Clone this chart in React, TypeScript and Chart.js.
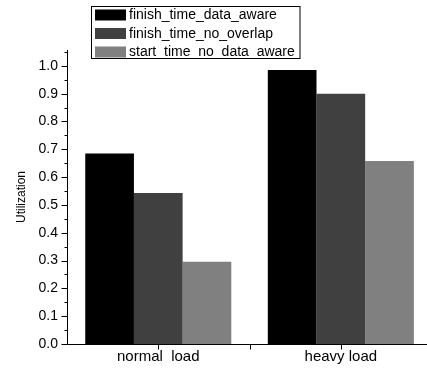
import React, { useEffect, useRef } from "react";
import { Chart, registerables } from "chart.js";

Chart.register(...registerables);

const categories = ["normal  load", "heavy load"];
const categoryPositions = [1, 2];
const seriesNames = ["finish_time_data_aware", "finish_time_no_overlap", "start_time_no_data_aware"];
const finishTimeDataAware = [0.685, 0.985];
const finishTimeNoOverlap = [0.543, 0.9];
const startTimeNoDataAware = [0.296, 0.658];
const seriesColors = ["#000000", "#404040", "#808080"];
const xTickValues = [1, 1.5, 2];
const yMajorStep = 0.1;
const yMinorStep = 0.05;

const FONT = "'Liberation Sans', Arial, sans-serif";

const decorPlugin = {
  id: "decor",
  afterDraw(chart: any) {
    const ctx = chart.ctx;
    const xs = chart.scales.x;
    const ys = chart.scales.y;
    const { left, right, top, bottom } = chart.chartArea;
    ctx.save();
    ctx.strokeStyle = "#000";
    ctx.lineWidth = 1;
    const line = (x1: number, y1: number, x2: number, y2: number) => {
      ctx.beginPath();
      ctx.moveTo(x1, y1);
      ctx.lineTo(x2, y2);
      ctx.stroke();
    };
    const ax = Math.round(left) + 0.5;
    const ay = Math.round(bottom) + 0.5;
    line(ax, top, ax, ay);
    line(ax, ay, right, ay);
    const n = Math.round(ys.max / yMinorStep);
    for (let i = 0; i <= n; i++) {
      const v = i * yMinorStep;
      if (v > ys.max) break;
      const py = Math.round(ys.getPixelForValue(v)) + 0.5;
      const len = i % 2 === 0 ? 6 : 3;
      line(ax - len, py, ax, py);
    }
    for (const v of xTickValues) {
      const px = Math.round(xs.getPixelForValue(v)) + 0.5;
      line(px, ay, px, ay + 5);
    }
    // legend
    const lx = 91.5, ly = 6.5, lw = 208.5, lh = 52;
    ctx.fillStyle = "#fff";
    ctx.fillRect(lx, ly, lw, lh);
    ctx.strokeRect(lx, ly, lw, lh);
    ctx.font = `14px ${FONT}`;
    ctx.textBaseline = "middle";
    ctx.textAlign = "left";
    seriesNames.forEach((name, i) => {
      const cy = 15 + i * 18.5;
      ctx.fillStyle = seriesColors[i];
      ctx.fillRect(95, cy - 5.5, 31, 11);
      ctx.fillStyle = "#000";
      ctx.fillText(name, 129, cy + 0.5);
    });
    ctx.restore();
  },
};

export default function App() {
  const ref = useRef<HTMLCanvasElement | null>(null);
  useEffect(() => {
    document.body.style.margin = "0";
    Chart.defaults.font.family = FONT;
    Chart.defaults.color = "#000";
    const seriesValues = [finishTimeDataAware, finishTimeNoOverlap, startTimeNoDataAware];
    const chart = new Chart(ref.current as HTMLCanvasElement, {
      type: "bar",
      data: {
        datasets: seriesNames.map((name, i) => ({
          label: name,
          data: categoryPositions.map((x, j) => ({ x, y: seriesValues[i][j] })),
          backgroundColor: seriesColors[i],
          borderWidth: 0,
          categoryPercentage: 0.8,
          barPercentage: 1.0,
        })),
      },
      options: {
        responsive: false,
        animation: false,
        layout: { padding: { top: 50, left: 0, right: 0, bottom: 0 } },
        plugins: { legend: { display: false }, tooltip: { enabled: false }, title: { display: false } },
        scales: {
          x: {
            type: "linear",
            offset: false,
            min: 0.5,
            max: 2.472,
            grid: { display: false, drawTicks: false, tickLength: 0, offset: false },
            border: { display: false },
            afterBuildTicks: (s: any) => {
              s.ticks = categoryPositions.map((value) => ({ value }));
            },
            ticks: {
              autoSkip: false,
              maxRotation: 0,
              padding: 4,
              font: { size: 15, family: FONT },
              color: "#000",
              callback: (v: any) => {
                const idx = categoryPositions.indexOf(Number(v));
                return idx >= 0 ? categories[idx] : "";
              },
            },
            afterFit: (s: any) => {
              s.height = 24;
            },
          },
          y: {
            type: "linear",
            min: 0,
            max: 1.057,
            grid: { display: false, drawTicks: false, tickLength: 0 },
            border: { display: false },
            ticks: {
              stepSize: yMajorStep,
              includeBounds: false,
              padding: 9,
              font: { size: 14, family: FONT },
              color: "#000",
              callback: (v: any) => Number(v).toFixed(1),
            },
            title: {
              display: true,
              text: "Utilization",
              font: { size: 12, family: FONT },
              color: "#000",
              padding: { top: 14, bottom: 0 },
            },
            afterFit: (s: any) => {
              s.width = 67;
            },
          },
        },
      },
      plugins: [decorPlugin],
    });
    return () => chart.destroy();
  }, []);
  return (
    <div style={{ width: 427, height: 368 }}>
      <canvas ref={ref} width={427} height={368} style={{ display: "block" }} />
    </div>
  );
}
